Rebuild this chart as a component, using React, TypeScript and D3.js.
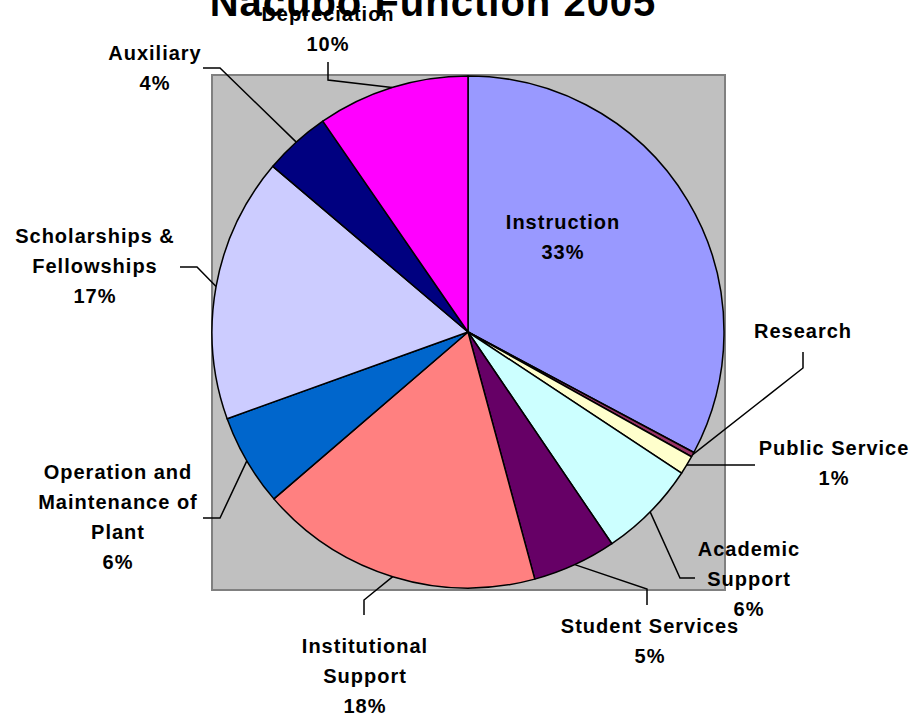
import React from "react";
import * as d3 from "d3";

const categories = [
  "Instruction",
  "Research",
  "Public Service",
  "Academic Support",
  "Student Services",
  "Institutional Support",
  "Operation and Maintenance of Plant",
  "Scholarships & Fellowships",
  "Auxiliary",
  "Depreciation",
];
const values = [32.8, 0.3, 1.2, 6.2, 5.3, 17.9, 5.8, 16.7, 4.2, 9.6];
const percentLabels = ["33%", "", "1%", "6%", "5%", "18%", "6%", "17%", "4%", "10%"];
const labelLines = [
  ["Instruction"],
  ["Research"],
  ["Public Service"],
  ["Academic", "Support"],
  ["Student Services"],
  ["Institutional", "Support"],
  ["Operation and", "Maintenance of", "Plant"],
  ["Scholarships &", "Fellowships"],
  ["Auxiliary"],
  ["Depreciation"],
];
const colors = [
  "#9999FF",
  "#993366",
  "#FFFFCC",
  "#CCFFFF",
  "#660066",
  "#FF8080",
  "#0066CC",
  "#CCCCFF",
  "#000080",
  "#FF00FF",
];
const title = "Nacubo Function 2005";

// layout (label anchor: center x, first baseline y; leader: elbow points)
const labelPos: { x: number; y: number }[] = [
  { x: 563, y: 229 },
  { x: 803, y: 338 },
  { x: 834, y: 455 },
  { x: 749, y: 556 },
  { x: 650, y: 633 },
  { x: 365, y: 653 },
  { x: 118, y: 479 },
  { x: 95, y: 243 },
  { x: 155, y: 60 },
  { x: 328, y: 21 },
];
const leaderElbows: ([number, number][] | null)[] = [
  null,
  [[803, 368], [803, 352]],
  [[755, 465]],
  [[680, 578], [695, 578]],
  [[647, 589], [647, 605]],
  [[364, 600], [364, 615]],
  [[220, 518], [203, 518]],
  [[197, 267], [180, 267]],
  [[220, 68], [203, 68]],
  [[328, 80], [328, 62]],
];

export default function App() {
  const W = 922;
  const H = 721;
  const cx = 468;
  const cy = 332;
  const r = 256;
  const plot = { x: 212, y: 75, w: 513, h: 515 };

  const pie = d3
    .pie<number>()
    .sort(null)
    .value((d) => d)
    .startAngle(0)
    .endAngle(2 * Math.PI);
  const arcs = pie(values);
  const arcGen = d3.arc<d3.PieArcDatum<number>>().innerRadius(0).outerRadius(r);

  const font = "'Liberation Sans', Arial, sans-serif";
  const lineH = 30;

  return (
    <svg
      width={W}
      height={H}
      style={{ position: "absolute", left: 0, top: 0, background: "#fff" }}
    >
      <rect
        x={plot.x}
        y={plot.y}
        width={plot.w}
        height={plot.h}
        fill="#C0C0C0"
        stroke="#808080"
        strokeWidth={2}
      />
      <g transform={`translate(${cx},${cy})`}>
        {arcs.map((a, i) => (
          <path
            key={i}
            d={arcGen(a) || ""}
            fill={colors[i]}
            stroke="#000"
            strokeWidth={1.5}
            strokeLinejoin="round"
          />
        ))}
      </g>
      {arcs.map((a, i) => {
        const el = leaderElbows[i];
        if (!el) return null;
        const mid = (a.startAngle + a.endAngle) / 2;
        const p0: [number, number] = [cx + r * Math.sin(mid), cy - r * Math.cos(mid)];
        const pts = [p0, ...el];
        return (
          <polyline
            key={"l" + i}
            points={pts.map((p) => p.join(",")).join(" ")}
            fill="none"
            stroke="#000"
            strokeWidth={1.5}
          />
        );
      })}
      {categories.map((c, i) => {
        const lines = [...labelLines[i]];
        if (percentLabels[i]) lines.push(percentLabels[i]);
        const pos = labelPos[i];
        return (
          <text
            key={"t" + i}
            textAnchor="middle"
            fontFamily={font}
            fontWeight="bold"
            fontSize={20}
            letterSpacing={1}
            fill="#000"
          >
            {lines.map((ln, j) => (
              <tspan key={j} x={pos.x} y={pos.y + j * lineH}>
                {ln}
              </tspan>
            ))}
          </text>
        );
      })}
      <text
        x={433}
        y={16}
        textAnchor="middle"
        fontFamily={font}
        fontWeight="bold"
        fontSize={40}
        letterSpacing={1}
        fill="#000"
      >
        {title}
      </text>
    </svg>
  );
}
